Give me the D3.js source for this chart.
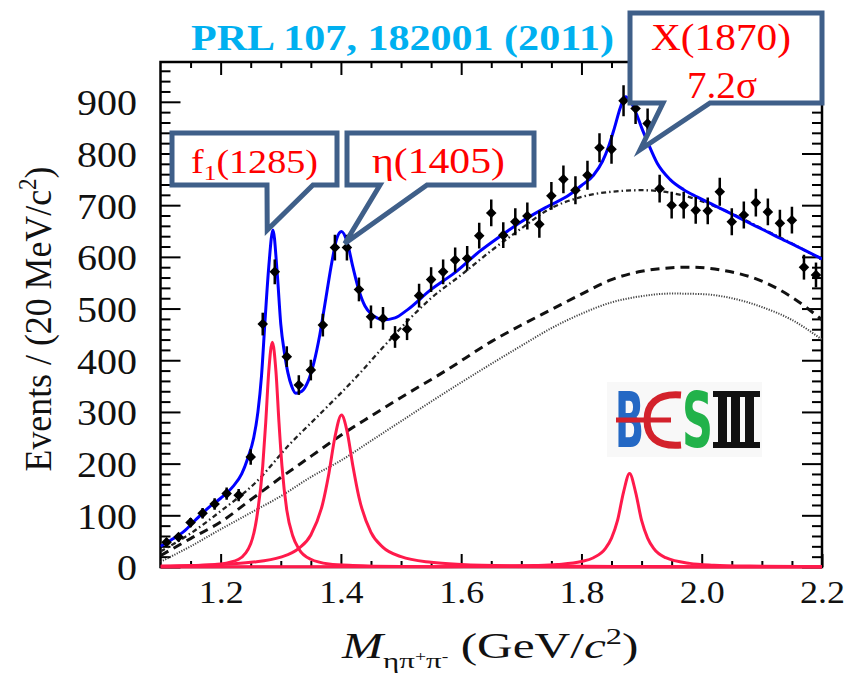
<!DOCTYPE html>
<html>
<head>
<meta charset="utf-8">
<script src="https://cdn.jsdelivr.net/npm/d3@7/dist/d3.min.js"></script>
<style>
html,body{margin:0;padding:0;background:#fff;} svg{display:block;}
.sf, .sf text, .sf tspan { font-family: "Liberation Serif", "Tinos", "Times New Roman", "Nimbus Roman", "FreeSerif", "DejaVu Serif", serif; }
</style>
</head>
<body>
<svg id="chart" width="848" height="673"></svg>
<script>
// ---------------- data ----------------
const binCenters = [1.11,1.13,1.15,1.17,1.19,1.21,1.23,1.25,1.27,1.29,1.31,1.33,1.35,1.37,1.39,1.41,1.43,1.45,1.47,1.49,1.51,1.53,1.55,1.57,1.59,1.61,1.63,1.65,1.67,1.69,1.71,1.73,1.75,1.77,1.79,1.81,1.83,1.85,1.87,1.89,1.91,1.93,1.95,1.97,1.99,2.01,2.03,2.05,2.07,2.09,2.11,2.13,2.15,2.17,2.19];
const counts = [48,58,86,104,122,142,139,213,470,571,407,352,381,468,618,618,537,484,481,445,460,525,556,571,594,597,641,685,642,668,679,663,718,750,729,758,811,808,902,887,858,732,700,700,690,689,726,668,681,705,687,665,671,580,565];
const errors = [7,8,9,10,11,12,12,15,22,24,20,19,20,22,25,25,23,22,22,21,21,23,24,24,24,24,25,26,25,26,26,26,27,27,27,28,28,28,30,30,29,27,26,26,26,26,27,26,26,27,26,26,26,24,24];

// total fit (blue)
const fitX = [1.10,1.12,1.14,1.16,1.18,1.20,1.22,1.235,1.245,1.255,1.262,1.268,1.274,1.28,1.287,1.294,1.30,1.306,1.312,1.318,1.325,1.335,1.345,1.355,1.365,1.375,1.385,1.393,1.401,1.41,1.42,1.43,1.44,1.45,1.46,1.47,1.49,1.51,1.55,1.59,1.63,1.665,1.70,1.743,1.78,1.80,1.82,1.835,1.845,1.855,1.865,1.873,1.882,1.892,1.90,1.91,1.926,1.948,1.97,1.992,2.02,2.048,2.075,2.103,2.13,2.159,2.20];
const fitY = [40,54,70,93,115,133,155,180,210,250,300,370,480,580,652,570,470,415,375,350,336,340,358,395,450,520,590,635,649,630,580,535,505,490,482,478,482,497,537,570,610,640,668,697,720,738,758,785,813,850,890,910,900,875,850,822,781,749,730,716,700,684,668,652,636,620,596];

// signals (red)
const f1X = [1.10,1.16,1.20,1.23,1.25,1.26,1.27,1.275,1.28,1.286,1.292,1.297,1.302,1.31,1.32,1.33,1.35,1.38,1.42,1.50,1.60,1.80,2.20];
const f1Y = [1,3,6,15,45,95,195,280,378,435,378,280,195,110,60,35,15,6,3,1,0.5,0,0];
const etaX = [1.10,1.20,1.25,1.30,1.33,1.35,1.37,1.38,1.39,1.401,1.41,1.42,1.43,1.45,1.47,1.50,1.55,1.60,1.70,1.90,2.20];
const etaY = [2,5,9,19,36,62,124,181,251,294,264,195,135,67,38,20,9,5,2.3,1,0.3];
const xsX = [1.10,1.50,1.65,1.72,1.76,1.80,1.82,1.84,1.85,1.86,1.87,1.88,1.89,1.90,1.91,1.92,1.94,1.98,2.02,2.08,2.20];
const xsY = [0.2,0.5,1.4,2.8,4.9,10.6,18,36,56,90,145,181,145,90,56,36,18,7,3.6,1.8,0.7];

// backgrounds
const bkgTotX = [1.10,1.15,1.20,1.257,1.316,1.36,1.426,1.47,1.51,1.55,1.60,1.65,1.70,1.743,1.80,1.85,1.90,1.965,2.03,2.10,2.15,2.20];
const bkgTotY = [30,65,108,162,239,290,368,425,475,520,565,612,655,690,716,726,729,720,694,655,626,594];
const bkgDashX = [1.10,1.15,1.20,1.25,1.30,1.35,1.40,1.45,1.50,1.576,1.65,1.70,1.75,1.80,1.85,1.90,1.95,1.98,2.03,2.10,2.15,2.20];
const bkgDashY = [22,55,87,130,173,214,255,292,328,381,436,468,498,528,556,572,579,580,575,553,522,478];
const bkgDotX = [1.10,1.15,1.20,1.25,1.30,1.35,1.40,1.45,1.50,1.55,1.60,1.65,1.70,1.75,1.80,1.85,1.90,1.95,2.00,2.05,2.10,2.15,2.20];
const bkgDotY = [10,40,73,105,137,174,206,244,282,320,357,393,428,462,490,512,524,529,528,520,503,478,440];

// ticks
const xMajorTicks = [1.2,1.4,1.6,1.8,2.0,2.2];
const xMinorTicks = [1.15,1.25,1.3,1.35,1.45,1.5,1.55,1.65,1.7,1.75,1.85,1.9,1.95,2.05,2.1,2.15];
const yMajorTicks = [0,100,200,300,400,500,600,700,800,900];
const yMinorTicks = d3.range(20, 977, 20).filter(v => v % 100 !== 0);

// annotations
const titleText = "PRL 107, 182001 (2011)";

// ---------------- drawing ----------------
const svg = d3.select("#chart").attr("class","sf");
const x = d3.scaleLinear().domain([1.1, 2.2]).range([160.5, 822]);
const y = d3.scaleLinear().domain([0, 977]).range([567, 62]);

svg.append("defs").append("clipPath").attr("id","clip").append("rect")
  .attr("x", x(1.1)).attr("y", y(977)).attr("width", x(2.2)-x(1.1)).attr("height", y(0)-y(977)+2);

// frame
svg.append("rect").attr("x", x(1.1)).attr("y", y(977))
  .attr("width", x(2.2)-x(1.1)).attr("height", y(0)-y(977))
  .attr("fill","none").attr("stroke","#000").attr("stroke-width",2.5);

function axisG(axis, tx, ty) {
  const g = svg.append("g").attr("transform", `translate(${tx},${ty})`).call(axis);
  g.select(".domain").remove();
  g.selectAll(".tick line").attr("stroke","#000").attr("stroke-width",2);
  g.attr("font-family", null);
  return g;
}
function squeeze(sel, targetW) {
  sel.each(function() {
    const w = this.getBBox().width;
    const n = this.textContent.length;
    const tw = targetW * n / 3;
    if (w > 0) {
      const tx = +this.getAttribute("x") || 0;
      this.setAttribute("transform", `translate(${tx},0) scale(${tw / w},1) translate(${-tx},0)`);
    }
  });
}
const bx = axisG(d3.axisBottom(x).tickValues(xMajorTicks).tickSize(-13).tickPadding(14).tickFormat(d3.format(".1f")), 0, y(0))
  .attr("font-size", 31);
bx.selectAll("text").attr("fill","#111");
squeeze(bx.selectAll("text"), 45);
axisG(d3.axisBottom(x).tickValues(xMinorTicks).tickSize(-6).tickFormat(""), 0, y(0));
axisG(d3.axisTop(x).tickValues(xMajorTicks).tickSize(-13).tickFormat(""), 0, y(977));
axisG(d3.axisTop(x).tickValues(xMinorTicks).tickSize(-6).tickFormat(""), 0, y(977));
const ly = axisG(d3.axisLeft(y).tickValues(yMajorTicks).tickSize(-20).tickPadding(23.5).tickFormat(d3.format("d")), x(1.1), 0)
  .attr("font-size", 35);
ly.selectAll("text").attr("fill","#111").attr("dy","0.37em");
squeeze(ly.selectAll("text"), 60);
axisG(d3.axisLeft(y).tickValues(yMinorTicks).tickSize(-10).tickFormat(""), x(1.1), 0);
axisG(d3.axisRight(y).tickValues(yMajorTicks).tickSize(-20).tickFormat(""), x(2.2), 0);
axisG(d3.axisRight(y).tickValues(yMinorTicks).tickSize(-10).tickFormat(""), x(2.2), 0);

// curves
const line = d3.line().x(d => x(d[0])).y(d => y(d[1])).curve(d3.curveMonotoneX);
const cg = svg.append("g").attr("clip-path","url(#clip)").attr("fill","none");
cg.append("path").attr("d", line(d3.zip(bkgDotX, bkgDotY))).attr("stroke","#444").attr("stroke-width",2).attr("stroke-dasharray","1.2,1.4");
cg.append("path").attr("d", line(d3.zip(bkgDashX, bkgDashY))).attr("stroke","#111").attr("stroke-width",3).attr("stroke-dasharray","9,6");
cg.append("path").attr("d", line(d3.zip(bkgTotX, bkgTotY))).attr("stroke","#222").attr("stroke-width",2.3).attr("stroke-dasharray","5,3,1.5,3");
[[f1X,f1Y],[etaX,etaY],[xsX,xsY]].forEach(([a,b]) => {
  cg.append("path").attr("d", line(d3.zip(a,b))).attr("stroke","#ff1a4b").attr("stroke-width",3);
});
cg.append("path").attr("d", line(d3.zip(fitX, fitY))).attr("stroke","#0000ff").attr("stroke-width",3);

// data points
const pts = d3.zip(binCenters, counts, errors);
const pg = svg.append("g").attr("clip-path","url(#clip)");
pg.selectAll("line.err").data(pts).join("line").attr("class","err")
  .attr("x1", d => x(d[0])).attr("x2", d => x(d[0]))
  .attr("y1", d => y(d[1]-d[2])).attr("y2", d => y(d[1]+d[2]))
  .attr("stroke","#000").attr("stroke-width",2.5);
pg.selectAll("path.pt").data(pts).join("path").attr("class","pt")
  .attr("d", d3.symbol(d3.symbolSquare, 56))
  .attr("transform", d => `translate(${x(d[0])},${y(d[1])}) rotate(45)`)
  .attr("fill","#000");

// BESIII logo
const lg = svg.append("g");
lg.append("rect").attr("x",607).attr("y",382).attr("width",155).attr("height",75).attr("fill","#f8f8f8");
function fitText(parent, tx, ty, targetW, anchor, rot, build) {
  const g = parent.append("g");
  const t = g.append("text").attr("x",0).attr("y",0).attr("text-anchor",anchor);
  build(t);
  const w = t.node().getBBox().width;
  const s = targetW / w;
  g.attr("transform", `translate(${tx},${ty})${rot ? ` rotate(${rot})` : ""} scale(${s},1)`);
  return g;
}
fitText(lg, 615, 447, 29, "start", 0, t => t.text("B").style("font-family","'DejaVu Sans',sans-serif").attr("font-weight","bold").attr("font-size",76).attr("fill","#2468c4"));
lg.append("line").attr("x1",616).attr("x2",671).attr("y1",420).attr("y2",420).attr("stroke","#d3212b").attr("stroke-width",5);
lg.append("path").attr("d","M681,395 C656,393 647,405 647,420 C647,436 656,447 681,445").attr("fill","none").attr("stroke","#d3212b").attr("stroke-width",7);
fitText(lg, 682, 447, 31, "start", 0, t => t.text("S").style("font-family","'DejaVu Sans',sans-serif").attr("font-weight","bold").attr("font-size",76).attr("fill","#21b24a"));
lg.append("rect").attr("x",713).attr("y",391).attr("width",47).attr("height",6).attr("fill","#111");
lg.append("rect").attr("x",713).attr("y",442).attr("width",47).attr("height",6).attr("fill","#111");
[718,731,745].forEach(vx => lg.append("rect").attr("x",vx).attr("y",391).attr("width",9).attr("height",57).attr("fill","#111"));

// axis titles
fitText(svg, 51, 319, 305, "middle", -90, t => {
  t.attr("font-size",39).attr("fill","#111");
  t.append("tspan").text("Events / (20 MeV/c");
  t.append("tspan").attr("font-size",25).attr("dy",-15).text("2");
  t.append("tspan").attr("dy",15).text(")");
});
fitText(svg, 342, 658, 298, "start", 0, t => {
  t.attr("font-size",35).attr("fill","#111");
  t.append("tspan").attr("font-style","italic").text("M");
  t.append("tspan").attr("font-size",22).attr("dy",10).text("ηπ");
  t.append("tspan").attr("font-size",14).attr("dy",-7).text("+");
  t.append("tspan").attr("font-size",22).attr("dy",7).text("π");
  t.append("tspan").attr("font-size",14).attr("dy",-7).text("-");
  t.append("tspan").attr("dy",-3).text(" (GeV/");
  t.append("tspan").attr("font-style","italic").text("c");
  t.append("tspan").attr("font-size",23).attr("dy",-14).text("2");
  t.append("tspan").attr("dy",14).text(")");
});

// callouts
const boxStroke = "#3f5f89";
const cgp = svg.append("g");
function callout(b, base, tip) {
  const tx = x(tip[0]), ty = y(tip[1]);
  const p = d3.path();
  p.moveTo(b[0], b[1]); p.lineTo(b[2], b[1]); p.lineTo(b[2], b[3]);
  p.lineTo(base[1], b[3]); p.lineTo(tx, ty); p.lineTo(base[0], b[3]);
  p.lineTo(b[0], b[3]); p.closePath();
  cgp.append("path").attr("d", p.toString()).attr("fill","#fff").attr("stroke",boxStroke)
    .attr("stroke-width",5).attr("stroke-linejoin","miter");
}
callout([172,133,337,185],[267,313],[1.2775,652]);
callout([347,133,534,185],[380,427],[1.4065,626]);
callout([630,13,822,103],[663,710],[1.8975,807]);

fitText(cgp, 191, 173, 127, "start", 0, t => {
  t.attr("font-size",33).attr("fill","#ff0000");
  t.append("tspan").text("f");
  t.append("tspan").attr("font-size",22).attr("dy",7).text("1");
  t.append("tspan").attr("dy",-7).text("(1285)");
});
fitText(cgp, 372, 173, 133, "start", 0, t => {
  t.attr("font-size",35).attr("fill","#ff0000").text("η(1405)");
});
fitText(cgp, 721, 50, 140, "middle", 0, t => {
  t.attr("font-size",37).attr("fill","#ff0000").text("X(1870)");
});
fitText(cgp, 722, 98, 70, "middle", 0, t => {
  t.attr("font-size",37).attr("fill","#ff0000").text("7.2σ");
});

// title
fitText(svg, 191, 50, 423, "start", 0, t => {
  t.attr("font-size",35).attr("font-weight","bold").attr("fill","#00b0f0").text(titleText);
});
</script>
</body>
</html>
